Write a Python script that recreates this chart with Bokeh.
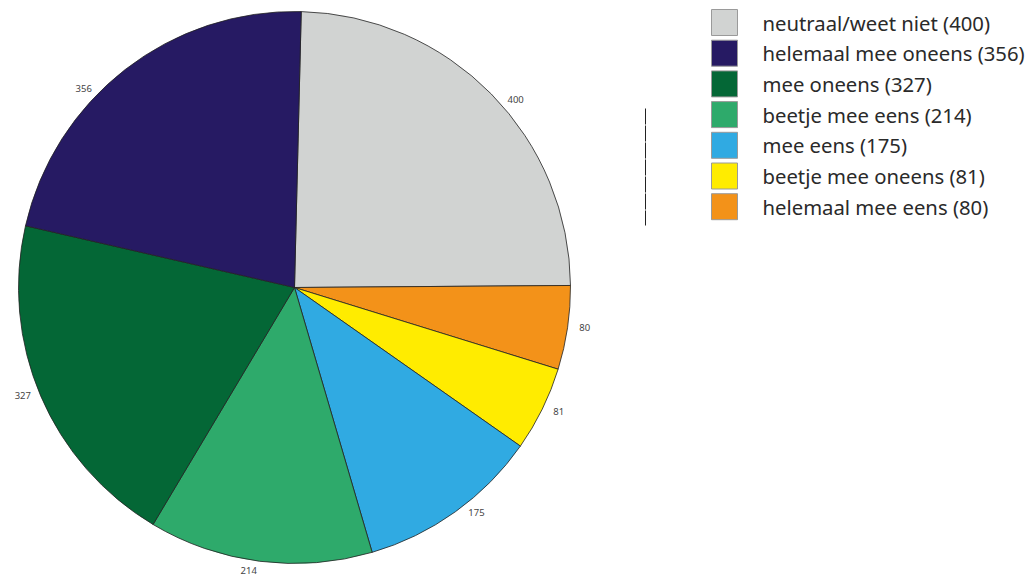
import math
from bokeh.plotting import figure
from bokeh.models import Range1d, ColumnDataSource
from bokeh.core.properties import value
from bokeh.embed import file_html
from bokeh.resources import INLINE

# data (clockwise order in the pie, starting near 12 o'clock)
pie_categories = ["neutraal/weet niet", "helemaal mee eens", "beetje mee oneens",
                  "mee eens", "beetje mee eens", "mee oneens", "helemaal mee oneens"]
pie_values = [400, 80, 81, 175, 214, 327, 356]
pie_colors = ["#d1d3d2", "#f39219", "#ffec00", "#30aae2", "#2eaa6b", "#046736", "#261a63"]

# legend order
legend_categories = ["neutraal/weet niet", "helemaal mee oneens", "mee oneens",
                     "beetje mee eens", "mee eens", "beetje mee oneens", "helemaal mee eens"]
legend_values = [400, 356, 327, 214, 175, 81, 80]
legend_colors = ["#d1d3d2", "#261a63", "#046736", "#2eaa6b", "#30aae2", "#ffec00", "#f39219"]

# layout: direction of each value label (degrees clockwise from 12 o'clock)
label_dir_deg = [49, 98, 115.6, 141.6, 189, 248, 314]

W, H = 1028, 578
p = figure(width=W, height=H, output_backend="svg", toolbar_location=None,
           x_range=Range1d(0, W), y_range=Range1d(0, H), min_border=0)
p.axis.visible = False
p.grid.visible = False
p.outline_line_color = None
p.background_fill_color = "white"
p.border_fill_color = "white"

cx, cy, R = 294, H - 287, 276
start_deg = 1.4
total = sum(pie_values)
starts, ends, lx, ly, labels = [], [], [], [], []
acc = start_deg
for v, ld in zip(pie_values, label_dir_deg):
    a0 = acc
    a1 = acc + v / total * 360.0
    acc = a1
    starts.append(math.radians(90 - a0))
    ends.append(math.radians(90 - a1))
    la = math.radians(90 - ld)
    lx.append(cx + (R + 17) * math.cos(la))
    ly.append(cy + (R + 11) * math.sin(la))
    labels.append(str(v))

src = ColumnDataSource(dict(start=starts, end=ends, color=pie_colors,
                            lx=lx, ly=ly, label=labels))
p.wedge(x=cx, y=cy, radius=R, start_angle="start", end_angle="end",
        direction="clock", fill_color="color", line_color="#222222",
        line_width=0.8, source=src)
p.text(x="lx", y="ly", text="label", source=src, text_align="center",
       text_baseline="middle", text_font=value("Noto Sans"),
       text_font_size="9.5px", text_color="#444444")

# stray dashed line
p.line(x=[645, 645], y=[H - 108, H - 225], line_color="#222222", line_width=1,
       line_dash="16 1")

# legend
bx, by0, step, bs = 724, H - 22, 30.7, 26
ly_ = [by0 - i * step for i in range(len(legend_categories))]
lsrc = ColumnDataSource(dict(x=[bx] * len(ly_), y=ly_, color=legend_colors,
                             tx=[762] * len(ly_),
                             text=[f"{c} ({v})" for c, v in zip(legend_categories, legend_values)]))
p.rect(x="x", y="y", width=bs, height=bs, fill_color="color", line_color="#9a9a9a",
       line_width=1, source=lsrc)
p.text(x="tx", y="y", text="text", source=lsrc, text_align="left",
       text_baseline="middle", text_font=value("Noto Sans"),
       text_font_size="20.3px", text_color="#2a2a2a")

open("out.html", "w").write(file_html(p, INLINE))
